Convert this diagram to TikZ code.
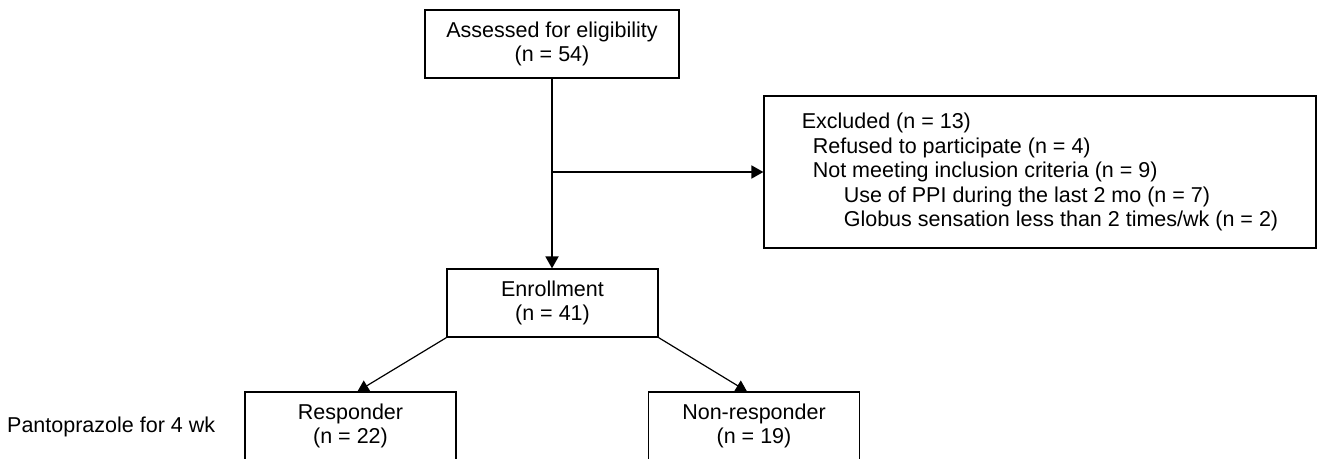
\documentclass[tikz,border=0pt]{standalone}
\usepackage{fontspec}
\setmainfont{Liberation Sans}
\usetikzlibrary{arrows.meta}
\begin{document}
\begin{tikzpicture}[x=1pt,y=1pt,
  txt/.style={font=\fontsize{21.5}{24.5}\selectfont},
  box/.style={txt,draw,line width=1.2pt,minimum width=211pt,minimum height=68pt,
    align=center,inner sep=0pt},
  arr/.style={line width=1.8pt,-{Triangle[length=12pt,width=13pt]}},
  diag/.style={line width=1.2pt,-{Triangle[length=11pt,width=12pt]}}]
  \clip (0,0) rectangle (1317,-458);

  \node[box,minimum width=254pt] (assess) at (552,-44) {Assessed for eligibility\\(n = 54)};
  \node[box,minimum width=552pt,minimum height=152pt,align=left] (excl) at (1040,-172)
    {Excluded (n = 13)\\
     \hspace*{11pt}Refused to participate (n = 4)\\
     \hspace*{11pt}Not meeting inclusion criteria (n = 9)\\
     \hspace*{42pt}Use of PPI during the last 2 mo (n = 7)\\
     \hspace*{42pt}Globus sensation less than 2 times/wk (n = 2)};
  \node[box] (enr) at (552.5,-303) {Enrollment\\(n = 41)};
  \node[box] (resp) at (350.5,-426) {Responder\\(n = 22)};
  \node[box] (nonresp) at (754,-426) {Non-responder\\(n = 19)};
  \node[txt,anchor=west,inner sep=0pt] (panto) at (7,-427) {Pantoprazole for 4 wk};

  \coordinate (split) at (assess.south |- excl.west);
  \draw[arr] (assess.south) -- (assess.south |- enr.north);
  \draw[arr] (split) -- (excl.west);
  \draw[diag] (enr.south west) -- ([xshift=7pt]resp.north);
  \draw[diag] (enr.south east) -- ([xshift=-7pt]nonresp.north);
\end{tikzpicture}
\end{document}
